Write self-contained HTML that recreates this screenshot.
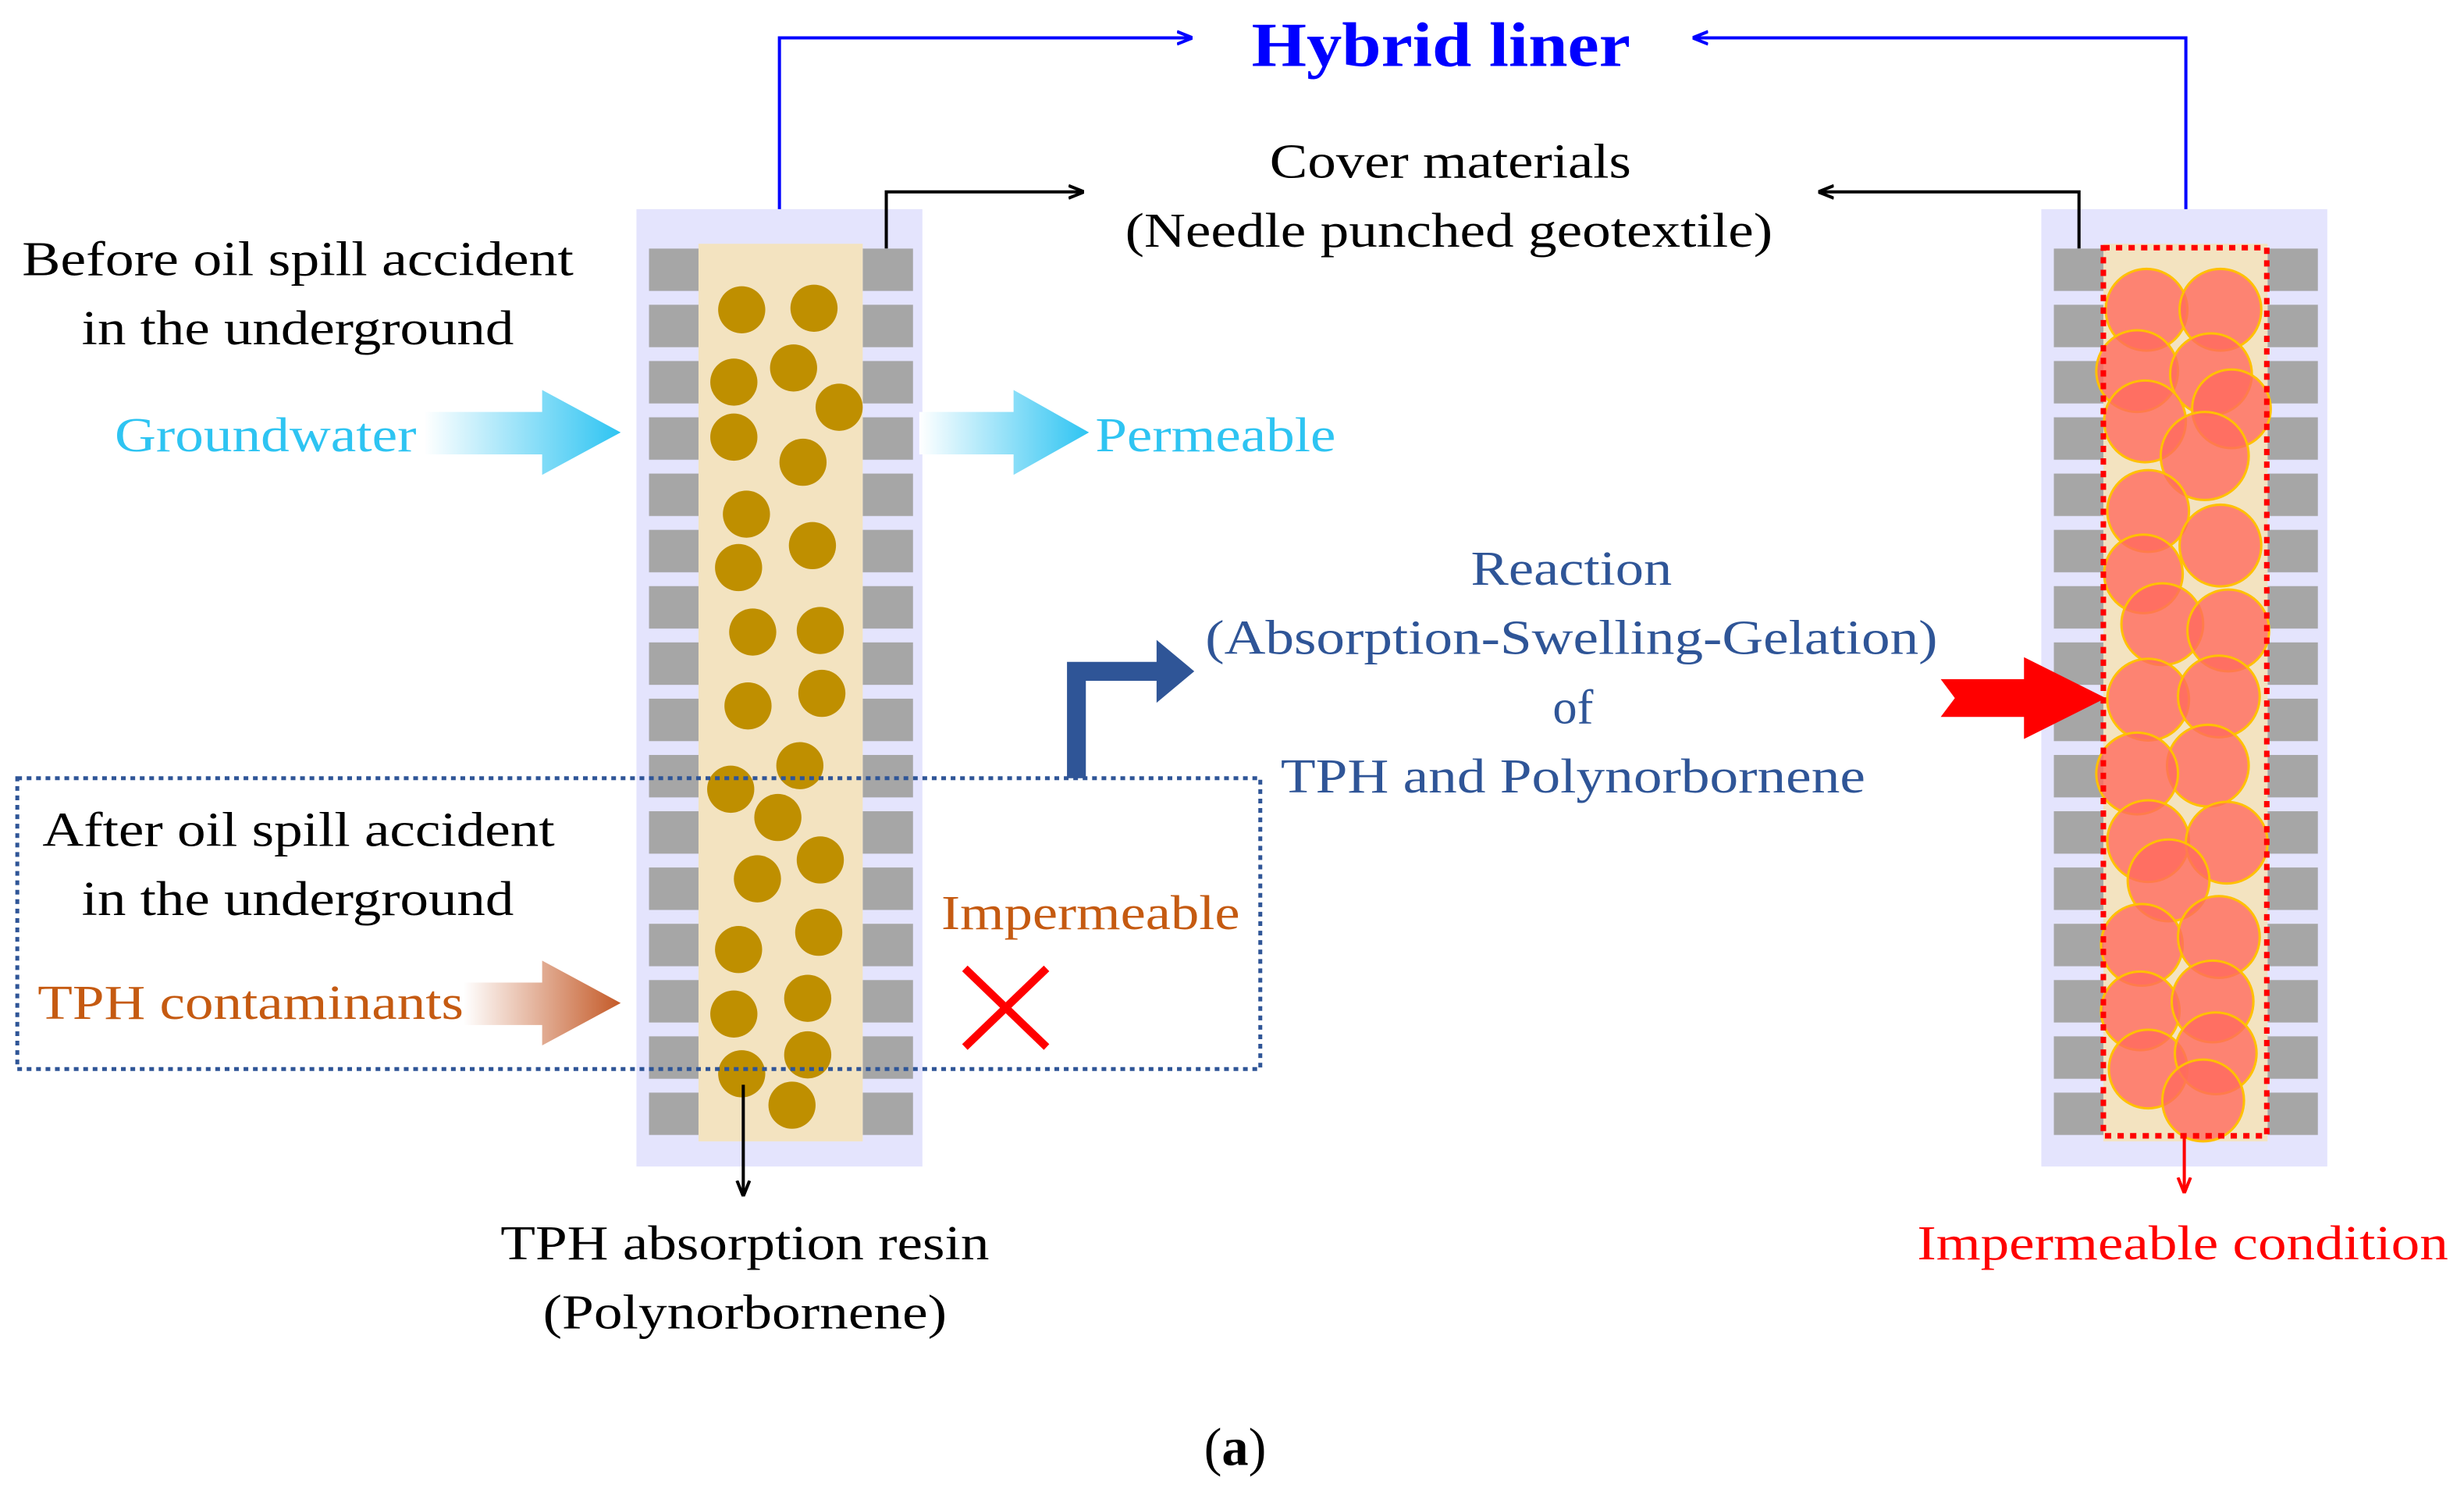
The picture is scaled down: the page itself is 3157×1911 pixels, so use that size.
<!DOCTYPE html>
<html><head><meta charset="utf-8"><style>html,body{margin:0;padding:0;background:#fff}svg{display:block}svg text{font-family:"Liberation Serif",serif}</style></head><body>
<svg xmlns="http://www.w3.org/2000/svg" width="3157" height="1911" viewBox="0 0 1568 949" style="font-family:'Liberation Serif',serif">
<defs>
<linearGradient id="gw" x1="0" x2="1"><stop offset="0" stop-color="#fff"/><stop offset="1" stop-color="#2ec4f2"/></linearGradient>
<linearGradient id="tp" x1="0" x2="1"><stop offset="0" stop-color="#fff"/><stop offset="1" stop-color="#c45a28"/></linearGradient>
<marker id="ab" markerWidth="10" markerHeight="10" refX="9" refY="5" orient="auto" markerUnits="userSpaceOnUse"><path d="M0,1 L10,5 L0,9" fill="none" stroke="#0000ff" stroke-width="2"/></marker>
<marker id="ak" markerWidth="10" markerHeight="10" refX="9" refY="5" orient="auto" markerUnits="userSpaceOnUse"><path d="M0,1 L10,5 L0,9" fill="none" stroke="#000" stroke-width="2"/></marker>
<marker id="ar" markerWidth="10" markerHeight="10" refX="9" refY="5" orient="auto" markerUnits="userSpaceOnUse"><path d="M0,1 L10,5 L0,9" fill="none" stroke="#f00" stroke-width="2"/></marker>
<pattern id="blk" width="182" height="35.8" patternUnits="userSpaceOnUse" x="0" y="158">
<rect x="8" y="0" width="32" height="27" fill="#a6a6a6"/><rect x="144" y="0" width="32" height="27" fill="#a6a6a6"/>
</pattern>
</defs>
<g transform="translate(405,0)">
<rect x="0" y="133" width="182" height="609" fill="#e4e4fd"/>
<rect x="0" y="158" width="182" height="564" fill="url(#blk)"/>
<rect x="39.5" y="155" width="104.5" height="571" fill="#f3e3c0"/>
</g>
<g fill="#bf8f00">
<circle cx="472" cy="197" r="15"/><circle cx="518" cy="196" r="15"/><circle cx="467" cy="243" r="15"/><circle cx="505" cy="234" r="15"/><circle cx="534" cy="259" r="15"/><circle cx="467" cy="278" r="15"/><circle cx="511" cy="294" r="15"/><circle cx="475" cy="327" r="15"/><circle cx="517" cy="347" r="15"/><circle cx="470" cy="361" r="15"/><circle cx="479" cy="402" r="15"/><circle cx="522" cy="401" r="15"/><circle cx="476" cy="449" r="15"/><circle cx="523" cy="441" r="15"/><circle cx="509" cy="487" r="15"/><circle cx="465" cy="502" r="15"/><circle cx="495" cy="520" r="15"/><circle cx="522" cy="547" r="15"/><circle cx="482" cy="559" r="15"/><circle cx="470" cy="604" r="15"/><circle cx="521" cy="593" r="15"/><circle cx="467" cy="645" r="15"/><circle cx="514" cy="635" r="15"/><circle cx="472" cy="683" r="15"/><circle cx="514" cy="671" r="15"/><circle cx="504" cy="703" r="15"/>
</g>
<g transform="translate(1299,0)">
<rect x="0" y="133" width="182" height="609" fill="#e4e4fd"/>
<rect x="0" y="158" width="182" height="564" fill="url(#blk)"/>
<rect x="39.5" y="155" width="104.5" height="571" fill="#f3e3c0"/>
</g>
<g fill="#ff6a5e" fill-opacity="0.8" stroke="#ffc000" stroke-width="1.5">
<circle cx="1366" cy="197" r="26"/><circle cx="1413" cy="197" r="26"/><circle cx="1360" cy="236" r="26"/><circle cx="1407" cy="238" r="26"/><circle cx="1420" cy="260" r="25"/><circle cx="1365" cy="268" r="26"/><circle cx="1403" cy="290" r="28"/><circle cx="1367" cy="325" r="26"/><circle cx="1413" cy="347" r="26"/><circle cx="1364" cy="365" r="25"/><circle cx="1376" cy="397" r="26"/><circle cx="1418" cy="401" r="26"/><circle cx="1367" cy="445" r="26"/><circle cx="1412" cy="443" r="26"/><circle cx="1405" cy="487" r="26"/><circle cx="1360" cy="492" r="26"/><circle cx="1367" cy="535" r="26"/><circle cx="1417" cy="536" r="26"/><circle cx="1380" cy="560" r="26"/><circle cx="1363" cy="601" r="26"/><circle cx="1412" cy="596" r="26"/><circle cx="1362" cy="643" r="25"/><circle cx="1408" cy="637" r="26"/><circle cx="1367" cy="680" r="25"/><circle cx="1410" cy="670" r="26"/><circle cx="1402" cy="700" r="26"/>
</g>
<rect x="1338.5" y="157.5" width="104" height="565" fill="none" stroke="#f00" stroke-width="3.5" stroke-dasharray="4,4"/>
<polyline points="496,133 496,24 758,24" fill="none" stroke="#0000ff" stroke-width="2" marker-end="url(#ab)"/>
<polyline points="1391,133 1391,24 1078,24" fill="none" stroke="#0000ff" stroke-width="2" marker-end="url(#ab)"/>
<polyline points="564,158 564,122 689,122" fill="none" stroke="#000" stroke-width="2" marker-end="url(#ak)"/>
<polyline points="1323,158 1323,122 1158,122" fill="none" stroke="#000" stroke-width="2" marker-end="url(#ak)"/>
<line x1="473" y1="690" x2="473" y2="760" stroke="#000" stroke-width="2" marker-end="url(#ak)"/>
<line x1="1390" y1="722" x2="1390" y2="758" stroke="#f00" stroke-width="2" marker-end="url(#ar)"/>
<path d="M270,262 H345 V248 L395,275 L345,302 V289 H270 Z" fill="url(#gw)"/>
<path d="M585,262 H645 V248 L693,275 L645,302 V289 H585 Z" fill="url(#gw)"/>
<path d="M295,625 H345 V611 L395,638 L345,665 V652 H295 Z" fill="url(#tp)"/>
<path d="M1235,432 H1288 V418 L1340,444 L1288,470 V456 H1235 L1244,444 Z" fill="#ff0000"/>
<path d="M679,495 V421 H736 V407 L760,427 L736,447 V433 H691 V495 Z" fill="#2f5597"/>
<rect x="11" y="495" width="791" height="185" fill="none" stroke="#2f5597" stroke-width="2.5" stroke-dasharray="3,3"/>
<path d="M614,616 L666,666 M666,616 L614,666" stroke="#f00" stroke-width="5"/>
<g font-size="31">
<text x="917" y="42" text-anchor="middle" font-weight="bold" font-size="40" fill="#0000ff" textLength="241" lengthAdjust="spacingAndGlyphs">Hybrid liner</text>
<text x="923" y="113" text-anchor="middle" textLength="230" lengthAdjust="spacingAndGlyphs">Cover materials</text>
<text x="922" y="157" text-anchor="middle" textLength="412" lengthAdjust="spacingAndGlyphs">(Needle punched geotextile)</text>
<text x="14" y="175" textLength="351" lengthAdjust="spacingAndGlyphs">Before oil spill accident</text>
<text x="52" y="219" textLength="275" lengthAdjust="spacingAndGlyphs">in the underground</text>
<text x="73" y="287" fill="#2ec4f2" textLength="192" lengthAdjust="spacingAndGlyphs">Groundwater</text>
<text x="697" y="287" fill="#2ec4f2" textLength="153" lengthAdjust="spacingAndGlyphs">Permeable</text>
<g fill="#2f5597" text-anchor="middle">
<text x="1000" y="372" textLength="128" lengthAdjust="spacingAndGlyphs">Reaction</text>
<text x="1000" y="416" textLength="466" lengthAdjust="spacingAndGlyphs">(Absorption-Swelling-Gelation)</text>
<text x="1001" y="460">of</text>
<text x="1001" y="504" textLength="372" lengthAdjust="spacingAndGlyphs">TPH and Polynorbornene</text>
</g>
<text x="27" y="538" textLength="326" lengthAdjust="spacingAndGlyphs">After oil spill accident</text>
<text x="52" y="582" textLength="275" lengthAdjust="spacingAndGlyphs">in the underground</text>
<text x="599" y="591" fill="#c55a11" textLength="190" lengthAdjust="spacingAndGlyphs">Impermeable</text>
<text x="24" y="648" fill="#c55a11" textLength="271" lengthAdjust="spacingAndGlyphs">TPH contaminants</text>
<text x="474" y="801" text-anchor="middle" textLength="311" lengthAdjust="spacingAndGlyphs">TPH absorption resin</text>
<text x="474" y="845" text-anchor="middle" textLength="257" lengthAdjust="spacingAndGlyphs">(Polynorbornene)</text>
<text x="1220" y="801" fill="#ff0000" textLength="338" lengthAdjust="spacingAndGlyphs">Impermeable condition</text>
<text x="786" y="932" text-anchor="middle" font-size="34">(<tspan font-weight="bold">a</tspan>)</text>
</g>
</svg>
</body></html>
